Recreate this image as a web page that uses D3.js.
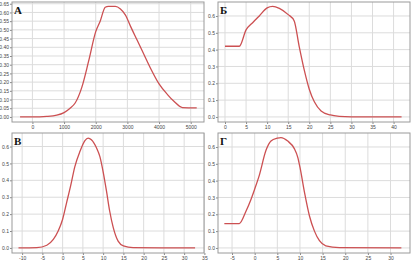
<!DOCTYPE html>
<html><head><meta charset="utf-8">
<script src="https://cdn.jsdelivr.net/npm/d3@7"></script>
<style>body{margin:0;background:#fff}svg{display:block}</style>
</head><body>
<script>
// Panel A
const xA = [-390, 0, 455, 770, 1000, 1190, 1350, 1560, 1775, 2000, 2140, 2300, 2400, 2620, 2780, 2940, 3100, 3310, 3520, 3730, 4000, 4260, 4470, 4740, 5190];
const yA = [0, 0, 0.003, 0.01, 0.025, 0.05, 0.08, 0.17, 0.32, 0.49, 0.55, 0.63, 0.635, 0.635, 0.62, 0.585, 0.52, 0.44, 0.36, 0.28, 0.19, 0.13, 0.09, 0.054, 0.052];
const ticksXA = [0, 1000, 2000, 3000, 4000, 5000];
const ticksYA = [0, 0.05, 0.1, 0.15, 0.2, 0.25, 0.3, 0.35, 0.4, 0.45, 0.5, 0.55, 0.6, 0.65];
// Panel Б
const xB = [0, 3.4, 5, 6.56, 8.14, 10, 11.3, 12.9, 15, 16.4, 17.6, 18.8, 20, 21.2, 22.8, 25, 27.1, 30, 41.9];
const yB = [0.42, 0.42, 0.517, 0.56, 0.60, 0.648, 0.657, 0.645, 0.608, 0.572, 0.42, 0.28, 0.165, 0.09, 0.036, 0.012, 0.004, 0.001, 0];
const ticksXB = [0, 5, 10, 15, 20, 25, 30, 35, 40];
const ticksYB = [0, 0.1, 0.2, 0.3, 0.4, 0.5, 0.6];
// Panel В
const xV = [-10.9, -6.4, -3.9, -2.3, -1.1, 0, 1, 2, 3, 4.26, 5.5, 6.3, 7.1, 8.4, 9.2, 10, 10.8, 11.6, 12.5, 13.7, 15, 17.4, 32.7];
const yV = [0, 0.002, 0.016, 0.05, 0.1, 0.17, 0.27, 0.37, 0.48, 0.57, 0.635, 0.65, 0.64, 0.59, 0.54, 0.45, 0.34, 0.22, 0.12, 0.04, 0.012, 0.002, 0];
const ticksXV = [-10, -5, 0, 5, 10, 15, 20, 25, 30, 35];
const ticksYV = [0, 0.1, 0.2, 0.3, 0.4, 0.5, 0.6];
// Panel Г
const xG = [-6.7, -3.4, -1.9, -0.8, 0, 1, 2.5, 3.6, 5, 5.8, 7.3, 8.75, 9.5, 10, 11, 12.1, 13.2, 14.3, 15.7, 18.7, 32.4];
const yG = [0.145, 0.145, 0.22, 0.29, 0.35, 0.43, 0.58, 0.635, 0.652, 0.656, 0.635, 0.59, 0.54, 0.48, 0.33, 0.19, 0.10, 0.043, 0.013, 0.002, 0];
const ticksXG = [-5, 0, 5, 10, 15, 20, 25, 30];
const ticksYG = [0, 0.1, 0.2, 0.3, 0.4, 0.5, 0.6];
const labels = ["А", "Б", "В", "Г"];

const W = 413, H = 263;
const svg = d3.select("body").append("svg").attr("width", W).attr("height", H);

function panel(ox, oy, xs, ys, xdom, ydom, tx, ty, yfmt, label) {
  const L = 12, R = 204, T = 2, B = 122;
  const g = svg.append("g").attr("transform", `translate(${ox},${oy})`);
  const x = d3.scaleLinear().domain(xdom).range([L, R]);
  const y = d3.scaleLinear().domain(ydom).range([B, T]);
  // grid
  g.append("g").selectAll("line").data(tx).join("line")
    .attr("x1", d => x(d)).attr("x2", d => x(d)).attr("y1", T).attr("y2", B)
    .attr("stroke", "#dcdcdc").attr("stroke-width", 1);
  g.append("g").selectAll("line").data(ty).join("line")
    .attr("x1", L).attr("x2", R).attr("y1", d => y(d)).attr("y2", d => y(d))
    .attr("stroke", "#dcdcdc").attr("stroke-width", 1);
  // axes
  const ax = g.append("g").attr("transform", `translate(0,${B})`)
    .call(d3.axisBottom(x).tickValues(tx).tickSize(2).tickPadding(2).tickFormat(d => String(d)));
  const ay = g.append("g").attr("transform", `translate(${L},0)`)
    .call(d3.axisLeft(y).tickValues(ty).tickSize(2).tickPadding(1).tickFormat(d3.format(yfmt)));
  [ax, ay].forEach(a => {
    a.select(".domain").remove();
    a.selectAll("line").attr("stroke", "#888");
    a.selectAll("text").attr("fill", "#444").attr("font-size", "5px")
      .attr("font-family", "Liberation Sans");
  });
  ax.selectAll("text").attr("dy", "0.6em");
  // frame
  g.append("rect").attr("x", L).attr("y", T).attr("width", R - L).attr("height", B - T)
    .attr("fill", "none").attr("stroke", "#9a9a9a").attr("stroke-width", 1);
  // curve
  const pts = xs.map((d, i) => [d, ys[i]]);
  g.append("path").datum(pts)
    .attr("d", d3.line().x(d => x(d[0])).y(d => y(d[1])).curve(d3.curveMonotoneX))
    .attr("fill", "none").attr("stroke", "#cc5052").attr("stroke-width", 1.3);
  // label
  g.append("text").attr("x", L + 2).attr("y", T + 12).text(label)
    .attr("font-family", "Liberation Serif").attr("font-weight", "bold")
    .attr("font-size", "11px").attr("fill", "#111");
}

panel(0, 0, xA, yA, [-645, 5420], [-0.029, 0.66], ticksXA, ticksYA, ".2f", labels[0]);
panel(206, 0, xB, yB, [-1.66, 43.9], [-0.03, 0.683], ticksXB, ticksYB, ".1f", labels[1]);
panel(0, 131, xV, yV, [-12.5, 34.9], [-0.03, 0.68], ticksXV, ticksYV, ".1f", labels[2]);
panel(206, 131, xG, yG, [-8.1, 34.3], [-0.03, 0.683], ticksXG, ticksYG, ".1f", labels[3]);
</script>
</body></html>
